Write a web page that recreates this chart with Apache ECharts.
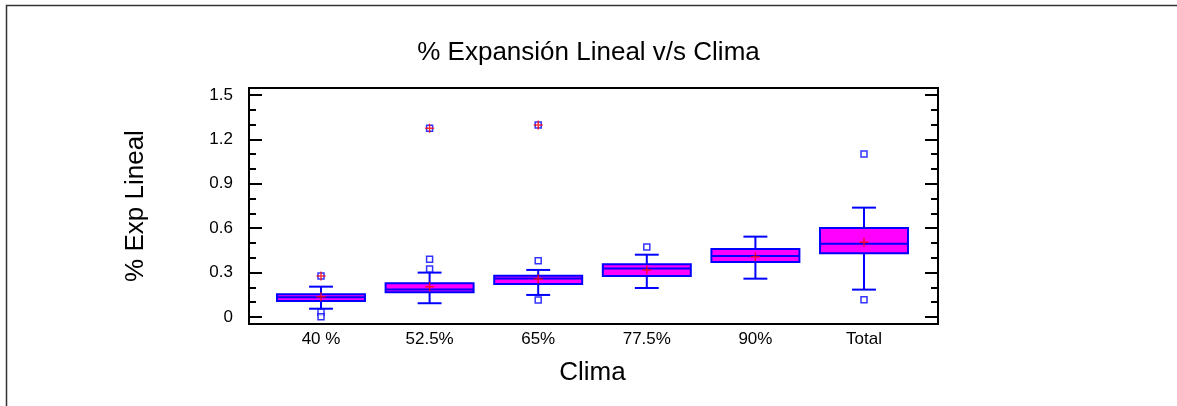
<!DOCTYPE html>
<html>
<head>
<meta charset="utf-8">
<script src="https://cdn.jsdelivr.net/npm/echarts@6/dist/echarts.min.js"></script>
<style>html,body{margin:0;padding:0;background:#fff}#c{width:1177px;height:406px}</style>
</head>
<body>
<div id="c"></div>
<script>
const categories = ['40 %', '52.5%', '65%', '77.5%', '90%', 'Total'];
const whiskerLow  = [0.056, 0.093, 0.149, 0.196, 0.259, 0.185];
const q1          = [0.108, 0.167, 0.223, 0.277, 0.372, 0.430];
const median      = [0.133, 0.186, 0.260, 0.327, 0.412, 0.495];
const q3          = [0.154, 0.228, 0.279, 0.356, 0.459, 0.601];
const whiskerHigh = [0.205, 0.300, 0.318, 0.421, 0.543, 0.739];
const means       = [0.137, 0.205, 0.257, 0.318, 0.407, 0.505];
const outlierCat  = [0, 0, 1, 1, 2, 2, 3, 5, 5];
const outlierVal  = [0.032, 0.002, 0.324, 0.390, 0.380, 0.115, 0.473, 1.101, 0.117];
const farCat      = [0, 1, 2];
const farVal      = [0.277, 1.275, 1.297];
const yTicks      = [0, 0.3, 0.6, 0.9, 1.2, 1.5];

const BLUE = '#0000ff', MAG = '#ff00ff', RED = '#ff0000';
const plusPath = 'path://M4.2,0H5.8V4.2H10V5.8H5.8V10H4.2V5.8H0V4.2H4.2Z';

const boxData = categories.map((c, i) => [i, whiskerLow[i], q1[i], median[i], q3[i], whiskerHigh[i]]);
const meanData = categories.map((c, i) => [i, means[i]]);
const outData = outlierCat.map((c, i) => [c, outlierVal[i]]);
const farData = farCat.map((c, i) => [c, farVal[i]]);

function renderBox(params, api) {
  const i = api.value(0);
  const band = api.size([1, 0])[0];
  const hw = band * 0.405, cw = band * 0.11;
  const pLow = api.coord([i, api.value(1)]);
  const pQ1 = api.coord([i, api.value(2)]);
  const pMed = api.coord([i, api.value(3)]);
  const pQ3 = api.coord([i, api.value(4)]);
  const pHigh = api.coord([i, api.value(5)]);
  const x = pMed[0];
  const ls = { stroke: BLUE, lineWidth: 2 };
  return {
    type: 'group',
    children: [
      { type: 'line', shape: { x1: x, y1: pQ3[1], x2: x, y2: pHigh[1] }, style: ls },
      { type: 'line', shape: { x1: x, y1: pQ1[1], x2: x, y2: pLow[1] }, style: ls },
      { type: 'line', shape: { x1: x - cw, y1: pHigh[1], x2: x + cw, y2: pHigh[1] }, style: ls },
      { type: 'line', shape: { x1: x - cw, y1: pLow[1], x2: x + cw, y2: pLow[1] }, style: ls },
      { type: 'rect', shape: { x: x - hw, y: pQ3[1], width: 2 * hw, height: pQ1[1] - pQ3[1] },
        style: { fill: MAG, stroke: BLUE, lineWidth: 2 } },
      { type: 'line', shape: { x1: x - hw, y1: pMed[1], x2: x + hw, y2: pMed[1] }, style: ls }
    ]
  };
}

const chart = echarts.init(document.getElementById('c'), null, { renderer: 'canvas' });
const font = 'Liberation Sans, Arial, sans-serif';
chart.setOption({
  animation: false,
  backgroundColor: '#fff',
  textStyle: { fontFamily: font },
  title: {
    text: '% Expansión Lineal v/s Clima',
    left: 'center', top: 35,
    textStyle: { fontFamily: font, fontSize: 26, fontWeight: 'normal', color: '#000' }
  },
  graphic: [
    { type: 'rect', left: 4, top: 3, shape: { width: 1200, height: 420 },
      style: { fill: 'none', stroke: '#333', lineWidth: 1.5 }, silent: true }
  ],
  grid: [
    { left: 249, top: 88, width: 689, height: 236, show: true, borderColor: '#000', borderWidth: 2, backgroundColor: 'transparent' },
    { left: 266.7, top: 95, width: 651.6, height: 222 }
  ],
  xAxis: [
    { gridIndex: 0, type: 'value', min: 0, max: 1, show: false },
    { gridIndex: 1, type: 'category', data: categories, boundaryGap: true,
      axisLine: { show: false }, axisTick: { show: false },
      axisLabel: { margin: 14, fontSize: 17, color: '#000', fontFamily: font },
      name: 'Clima', nameLocation: 'middle', nameGap: 43,
      nameTextStyle: { fontSize: 26, color: '#000', fontFamily: font } }
  ],
  yAxis: [
    { gridIndex: 0, type: 'value', min: 0, max: 1, show: false },
    { gridIndex: 1, type: 'value', min: 0, max: 1.5, interval: 0.3, position: 'left', offset: 17.7,
      axisLine: { show: false },
      axisTick: { show: true, inside: true, length: 13, lineStyle: { color: '#000', width: 2 } },
      minorTick: { show: true, splitNumber: 3, length: 7, lineStyle: { color: '#000', width: 2 } },
      splitLine: { show: false },
      axisLabel: { margin: 16, fontSize: 17, color: '#000', fontFamily: font,
        formatter: v => { const t = yTicks.find(k => Math.abs(k - v) < 1e-9); return t === undefined ? '' : String(t); } },
      name: '% Exp Lineal', nameLocation: 'middle', nameGap: 100, nameRotate: 90,
      nameTextStyle: { fontSize: 26, color: '#000', fontFamily: font } },
    { gridIndex: 1, type: 'value', min: 0, max: 1.5, interval: 0.3, position: 'right', offset: 19.7,
      axisLine: { show: false },
      axisTick: { show: true, inside: true, length: 13, lineStyle: { color: '#000', width: 2 } },
      minorTick: { show: true, splitNumber: 3, length: 7, lineStyle: { color: '#000', width: 2 } },
      splitLine: { show: false }, axisLabel: { show: false } }
  ],
  series: [
    { type: 'custom', xAxisIndex: 1, yAxisIndex: 1, renderItem: renderBox, data: boxData,
      encode: { x: 0, y: [1, 2, 3, 4, 5] }, z: 2 },
    { type: 'scatter', xAxisIndex: 1, yAxisIndex: 1, data: outData.concat(farData), symbol: 'rect', symbolSize: 6,
      itemStyle: { color: '#fff', borderColor: BLUE, borderWidth: 1.5 }, z: 3 },
    { type: 'scatter', xAxisIndex: 1, yAxisIndex: 1, data: meanData.concat(farData), symbol: plusPath, symbolSize: 9,
      itemStyle: { color: RED }, z: 4 }
  ]
});
</script>
</body>
</html>
